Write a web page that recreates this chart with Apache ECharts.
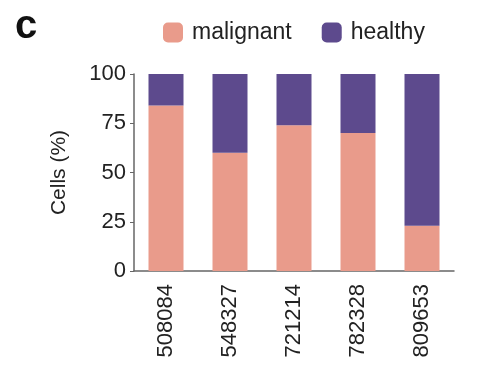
<!DOCTYPE html>
<html><head><meta charset="utf-8">
<script src="https://cdn.jsdelivr.net/npm/echarts@6/dist/echarts.min.js"></script>
<style>html,body{margin:0;padding:0;background:#fff}#c{width:478px;height:372px}</style>
</head><body><div id="c"></div>
<script>
var categories = ['508084','548327','721214','782328','809653'];
var malignant = [84, 60, 74, 70, 23];
var healthy = [16, 40, 26, 30, 77];
var yTicks = [0, 25, 50, 75, 100];

var chart = echarts.init(document.getElementById('c'), null, {renderer:'canvas'});
var font = 'Liberation Sans, Arial, sans-serif';
chart.setOption({
  animation:false,
  backgroundColor:'#fff',
  title:{text:'c', left:15, top:7, padding:0, textStyle:{fontFamily:font, fontSize:40, fontWeight:'bold', color:'#111'}},
  legend:{
    data:['malignant','healthy'], left:163, top:21, padding:0, itemWidth:20, itemHeight:20, itemGap:30,
    icon:'roundRect',
    textStyle:{fontFamily:font, fontSize:23, color:'#222', padding:[0,0,0,4]}
  },
  grid:{left:134, top:74, width:320, height:197, containLabel:false},
  xAxis:{
    type:'category', data:categories,
    axisLine:{lineStyle:{color:'#666', width:1.5}},
    axisTick:{alignWithLabel:true, length:5, lineStyle:{color:'#666'}},
    axisLabel:{rotate:90, fontFamily:font, fontSize:22, color:'#222', margin:13}
  },
  yAxis:{
    type:'value', min:0, max:100, interval:25,
    name:'Cells (%)', nameLocation:'middle', nameGap:64, nameRotate:90,
    nameTextStyle:{fontFamily:font, fontSize:21, color:'#222'},
    axisLine:{show:true, lineStyle:{color:'#666', width:1.5}},
    axisTick:{show:true, length:4, lineStyle:{color:'#666'}},
    splitLine:{show:false},
    axisLabel:{fontFamily:font, fontSize:22, color:'#222', margin:8,
      formatter:function(v){return yTicks.indexOf(v)>=0 ? String(v) : '';}}
  },
  series:[
    {name:'malignant', type:'bar', stack:'s', data:malignant, barWidth:35, itemStyle:{color:'#e99b8b'}},
    {name:'healthy', type:'bar', stack:'s', data:healthy, barWidth:35, itemStyle:{color:'#5d4a8d'}}
  ]
});
</script></body></html>
